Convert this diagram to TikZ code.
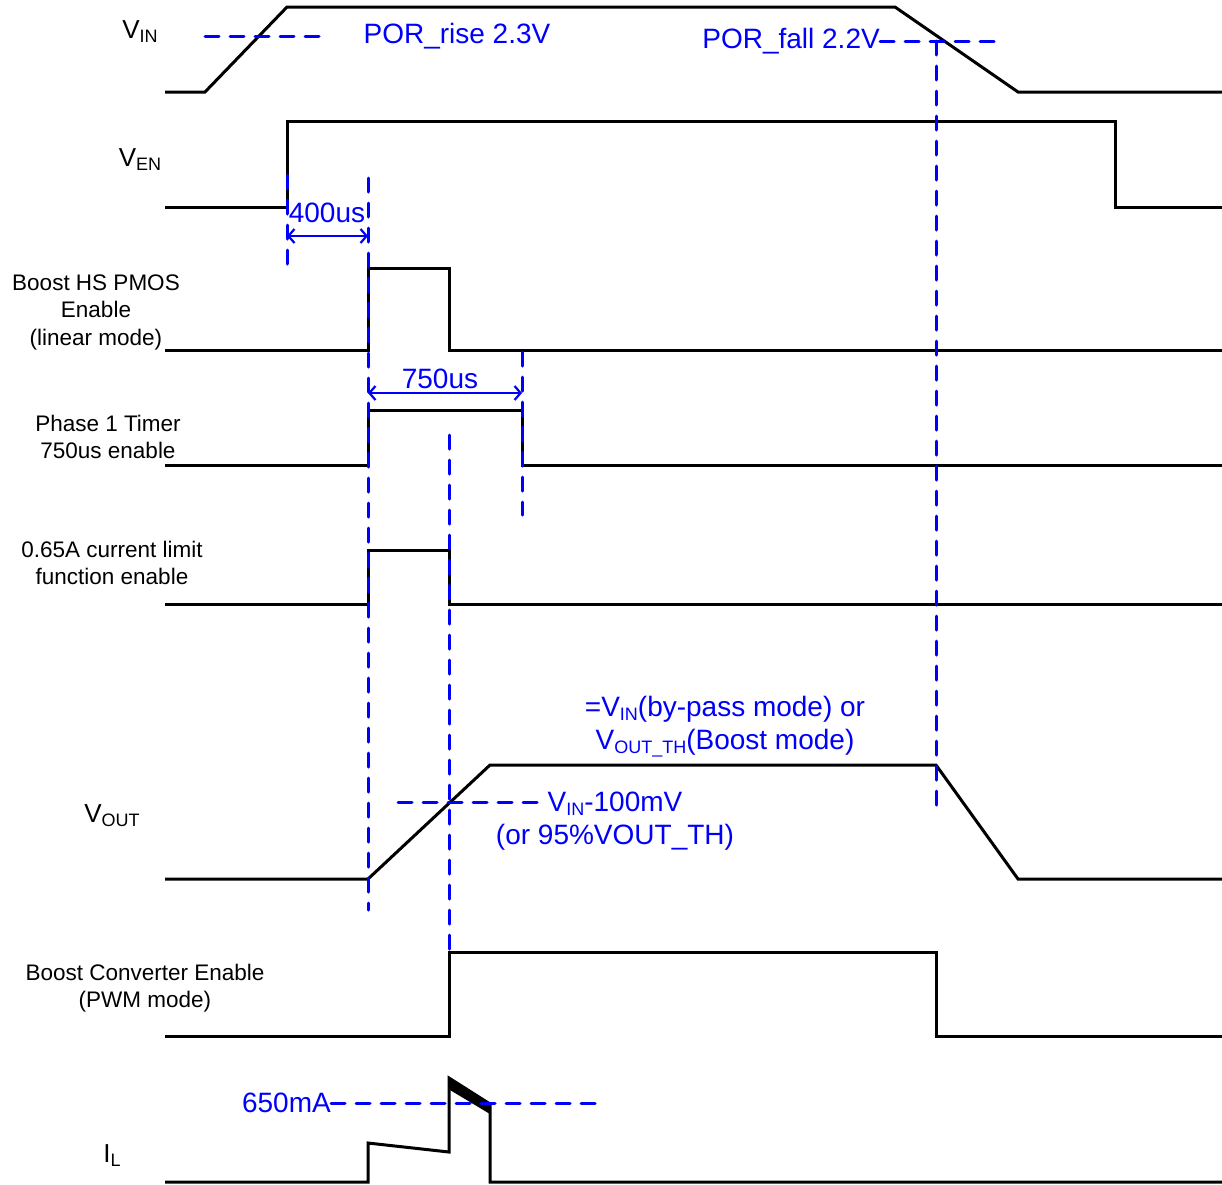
\documentclass[tikz,border=0pt]{standalone}
\usepackage{fontspec}
\setmainfont{Liberation Sans}
\usetikzlibrary{arrows.meta}
\definecolor{dblue}{RGB}{0,0,250}
\newcommand\subsc[1]{\raisebox{-4pt}{\fontsize{18}{18}\selectfont #1}}
\tikzset{
  wave/.style={line width=3pt, black},
  guide/.style={dblue, line width=3pt, line cap=round, dash pattern=on 14pt off 11pt},
  dimline/.style={dblue, line width=2.2pt, {Straight Barb[length=6pt,width=14pt]}-{Straight Barb[length=6pt,width=14pt]}},
  lab/.style={font=\fontsize{22.5}{27.5}\selectfont, align=center, inner sep=0pt},
  blab/.style={text=dblue, font=\fontsize{28}{33}\selectfont, align=center, inner sep=0pt},
  sig/.style={font=\fontsize{26}{30}\selectfont, inner sep=0pt}
}
\begin{document}
\begin{tikzpicture}[x=1pt,y=-1pt]
\useasboundingbox (0,0) rectangle (1222,1184);

% ---- signal labels
\node[sig, anchor=base] (lvin) at (140,38) {V\subsc{IN}};
\node[sig, anchor=base] (lven) at (140,166) {V\subsc{EN}};
\node[lab] (lhs) at (96,312) {Boost HS PMOS\\Enable\\(linear mode)};
\node[lab] (lph) at (108,437) {Phase 1 Timer\\750us enable};
\node[lab] (lcl) at (112,563) {0.65A current limit\\function enable};
\node[sig, anchor=base] (lvout) at (112,822) {V\subsc{OUT}};
\node[lab] (lbc) at (145,988) {Boost Converter Enable\\(PWM mode)};
\node[sig, anchor=base] (lil) at (112,1162) {I\subsc{L}};

% ---- waveforms
\draw[wave] (165,92) -- (205,92) -- (287,7) -- (895,7) -- (1018,92) -- (1222,92);
\draw[wave] (165,207) -- (287,207) -- (287,121) -- (1115,121) -- (1115,207) -- (1222,207);
\draw[wave] (165,350) -- (368,350) -- (368,268) -- (449,268) -- (449,350) -- (1222,350);
\draw[wave] (165,465) -- (368,465) -- (368,410) -- (522,410) -- (522,465) -- (1222,465);
\draw[wave] (165,604) -- (368,604) -- (368,550) -- (449,550) -- (449,604) -- (1222,604);
\draw[wave] (165,879) -- (368,879) -- (490,765) -- (936,765) -- (1018,879) -- (1222,879);
\draw[wave] (165,1036) -- (449,1036) -- (449,952) -- (936,952) -- (936,1036) -- (1222,1036);
\draw[wave] (165,1182) -- (368,1182) -- (368,1143) -- (449,1152) -- (449,1078) -- (490,1104) -- (490,1182) -- (1222,1182);
\fill[black] (449,1078) -- (490,1103) -- (490,1114) -- (450,1090) -- cycle;

% ---- guide lines
\draw[guide] (205,36) -- (320,36);
\node[blab] (porr) at (457,36) {POR\_rise 2.3V};
\node[blab, anchor=east] (porf) at (880,41) {POR\_fall 2.2V};
\coordinate (porfend) at (995,41);
\draw[guide] (porf.east) -- (porfend);

\draw[guide] (287,175) -- (287,268);
\draw[guide] (368,178) -- (368,910);
\draw[guide] (449,435) -- (449,950);
\draw[guide] (522,352) -- (522,515);
\draw[guide] (936,41) -- (936,815);

% ---- timing dimensions
\coordinate (d1a) at (287,236);
\coordinate (d1b) at (368,236);
\draw[dimline] (d1a) -- (d1b);
\node[blab] (t400) at (327,213) {400us};
\coordinate (d2a) at (368,393);
\coordinate (d2b) at (522,393);
\draw[dimline] (d2a) -- (d2b);
\node[blab] (t750) at (440,379) {750us};

% ---- Vout annotations
\node[blab] (vmode) at (725,727) {=V\subsc{IN}(by-pass mode) or\\V\subsc{OUT\_TH}(Boost mode)};
\coordinate (vthA) at (398,802);
\coordinate (vthB) at (540,802);
\draw[guide] (vthA) -- (vthB);
\node[blab] (vth) at (615,821) {V\subsc{IN}-100mV\\(or 95\%VOUT\_TH)};

% ---- current limit
\node[blab, anchor=east] (ilim) at (331,1103) {650mA};
\coordinate (ilimend) at (597,1103);
\draw[guide] (ilim.east) -- (ilimend);
\end{tikzpicture}
\end{document}
